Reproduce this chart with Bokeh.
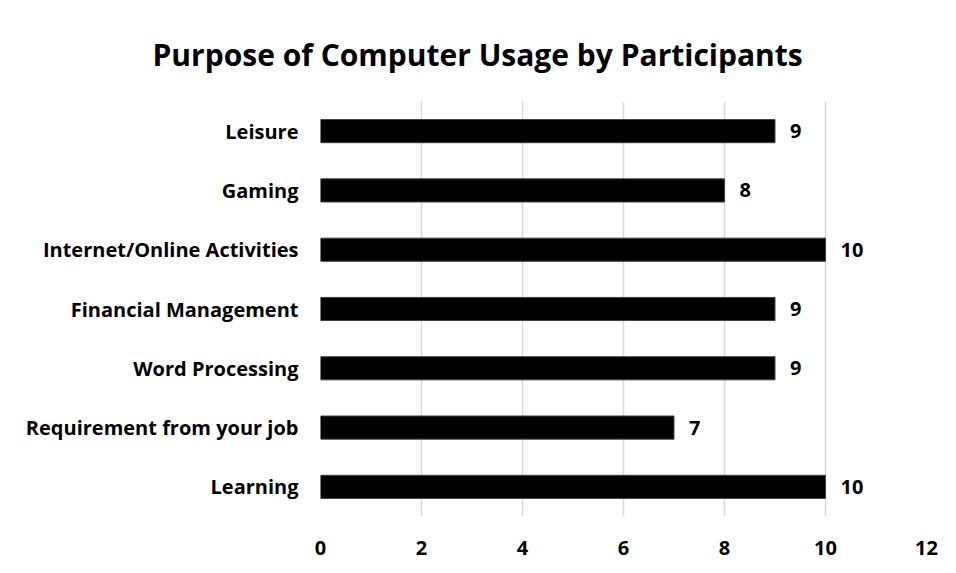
from bokeh.plotting import figure
from bokeh.models import ColumnDataSource, FactorRange, Range1d, FixedTicker, LabelSet, Title
from bokeh.core.properties import value
from bokeh.embed import file_html
from bokeh.resources import INLINE

categories = ["Learning", "Requirement from your job", "Word Processing",
              "Financial Management", "Internet/Online Activities", "Gaming", "Leisure"]
counts = [10, 7, 9, 9, 10, 8, 9]
x_ticks = [0, 2, 4, 6, 8, 10, 12]
title_text = "Purpose of Computer Usage by Participants"

FONT = "Open Sans"

src = ColumnDataSource(dict(cat=categories, val=counts, lab=[str(v) for v in counts]))

p = figure(width=947, height=564, y_range=FactorRange(*categories),
           x_range=Range1d(0, 12), output_backend="svg", toolbar_location=None,
           min_border_left=320, min_border_right=21, min_border_top=101, min_border_bottom=48)
p.title = None
t = Title(text=title_text, align="left", offset=-168, text_font=FONT,
          text_font_size="30px", text_font_style="bold", text_color="#000000",
          vertical_align="bottom", standoff=54)
p.add_layout(t, "above")

p.hbar(y="cat", right="val", left=0, height=0.39, source=src,
       fill_color="#000000", line_color="#404040", line_width=1)

labels = LabelSet(x="val", y="cat", text="lab", source=src, x_offset=15,
                  text_baseline="middle", text_font=value(FONT), text_font_size="20px",
                  text_font_style="bold", text_color="#000000")
p.add_layout(labels)

p.xaxis.ticker = FixedTicker(ticks=x_ticks)
for ax in (p.xaxis[0], p.yaxis[0]):
    ax.axis_line_color = None
    ax.major_tick_line_color = None
    ax.minor_tick_line_color = None
    ax.major_label_text_font = FONT
    ax.major_label_text_font_style = "bold"
    ax.major_label_text_color = "#000000"
p.xaxis.major_label_text_font_size = "20px"
p.xaxis.major_label_standoff = 18
p.yaxis.major_label_text_font_size = "20px"
p.yaxis.major_label_standoff = 16

p.xgrid.grid_line_color = "#d9d9d9"
p.xgrid.grid_line_width = 1.5
p.ygrid.grid_line_color = None
p.outline_line_color = None
p.background_fill_color = "#ffffff"
p.border_fill_color = "#ffffff"

open("out.html", "w").write(file_html(p, INLINE))
